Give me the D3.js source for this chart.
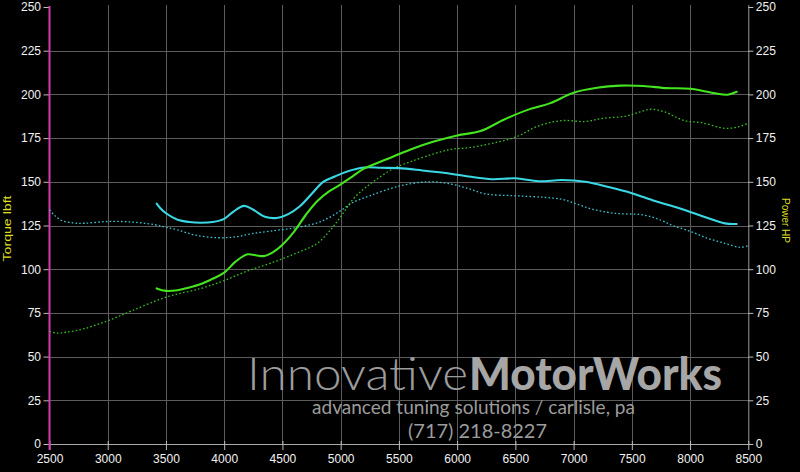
<!DOCTYPE html>
<html>
<head>
<meta charset="utf-8">
<script src="https://cdn.jsdelivr.net/npm/d3@7"></script>
<style>
  html, body { margin: 0; padding: 0; background: #000; }
  svg { display: block; }
</style>
</head>
<body>
<svg id="chart" width="800" height="472"></svg>
<script>
// ---------- DATA ----------
const xTicks = [2500, 3000, 3500, 4000, 4500, 5000, 5500, 6000, 6500, 7000, 7500, 8000, 8500];
const yTicks = [0, 25, 50, 75, 100, 125, 150, 175, 200, 225, 250];

const torqueRpm = [3420, 3450, 3500, 3600, 3700, 3800, 3900, 4000, 4080, 4170, 4250, 4350, 4450, 4550, 4650, 4750, 4850, 4950, 5050, 5200, 5350, 5500, 5700, 5900, 6100, 6300, 6500, 6700, 6900, 7100, 7300, 7500, 7700, 7900, 8100, 8300, 8400];
const torqueVals = [137.5, 135, 132, 128.3, 127, 126.6, 127, 128.8, 133, 136.2, 134, 130, 129.3, 131.5, 136, 143, 150, 153, 155.8, 158.2, 158, 157.8, 156.5, 155, 153, 151.5, 152, 150.3, 151, 150, 147, 143.5, 139, 135, 130.5, 126.2, 125.9];

const powerRpm = [3420, 3500, 3600, 3700, 3800, 3900, 4000, 4100, 4200, 4270, 4340, 4420, 4500, 4600, 4700, 4800, 4900, 5000, 5100, 5200, 5400, 5600, 5800, 6000, 6200, 6400, 6600, 6800, 7000, 7200, 7400, 7600, 7800, 8000, 8200, 8320, 8400];
const powerVals = [89, 87.6, 88, 89.5, 91.5, 94.5, 98, 104.5, 108.5, 108, 107.5, 109.8, 114, 121.5, 131, 139, 144.5, 148.5, 153, 157.5, 163, 168.5, 173, 176.5, 179, 185.5, 191, 195, 201, 203.8, 205, 204.8, 203.6, 203.2, 200.8, 199.8, 201.5];

const baseTorqueRpm = [2500, 2540, 2600, 2700, 2800, 3000, 3200, 3400, 3500, 3600, 3750, 3950, 4100, 4250, 4400, 4600, 4800, 4900, 5000, 5100, 5250, 5500, 5750, 5950, 6100, 6250, 6500, 6750, 6900, 7000, 7150, 7350, 7600, 7750, 7850, 8000, 8150, 8300, 8430, 8500];
const baseTorqueVals = [134, 131, 128, 126.5, 126.3, 127.3, 127, 125.5, 124, 122.5, 119.5, 118, 118.5, 120.5, 121.8, 123.6, 126.5, 129.5, 133.5, 138, 142, 147.5, 150, 148.7, 146, 143, 142, 141.1, 140, 138, 134.5, 132, 131, 128, 125, 121.7, 117.7, 114.8, 112.5, 113.5];

const basePowerRpm = [2500, 2560, 2650, 2800, 3000, 3200, 3500, 3800, 4000, 4200, 4400, 4650, 4800, 4900, 5000, 5100, 5200, 5300, 5450, 5600, 5800, 5950, 6100, 6300, 6500, 6700, 6900, 7100, 7250, 7450, 7570, 7660, 7780, 7950, 8100, 8300, 8420, 8500];
const basePowerVals = [64.5, 63.5, 64, 66, 70.5, 76, 84, 89, 93.5, 99, 103.5, 110, 114.8, 121.5, 130, 139.5, 146, 151, 157.5, 161.5, 166, 168.6, 169.5, 172, 175.5, 182, 185, 184.5, 186.3, 187.6, 190, 191.5, 190, 185, 183.8, 180.6, 181.5, 183.5];

const leftTitle = "Torque lbft";
const rightTitle = "Power HP";
const brandLight = "Innovative";
const brandBold = "MotorWorks";
const tagline = "advanced tuning solutions / carlisle, pa";
const phone = "(717) 218-8227";

// ---------- CHART ----------
const svg = d3.select("#chart");
svg.append("rect").attr("width", 800).attr("height", 472).attr("fill", "#000");

const x = d3.scaleLinear().domain([2500, 8500]).range([49.5, 748.3]);
const y = d3.scaleLinear().domain([0, 250]).range([444, 7]);

const font = "'Liberation Sans', Arial, Helvetica, sans-serif";

// grid
const grid = svg.append("g").attr("stroke", "#5c5c5c").attr("stroke-width", 1);
grid.selectAll("line.v").data(xTicks.filter(d => d > 2500 && d < 8500)).join("line")
  .attr("x1", d => Math.round(x(d)) + 0.5).attr("x2", d => Math.round(x(d)) + 0.5)
  .attr("y1", 5).attr("y2", 444);
grid.selectAll("line.h").data(yTicks.filter(d => d > 0 && d < 250)).join("line")
  .attr("x1", 49.5).attr("x2", 748.3)
  .attr("y1", d => Math.round(y(d)) + 0.5).attr("y2", d => Math.round(y(d)) + 0.5);

// watermark (vertically scaled so that its text boxes do not overlap)
const wm = svg.append("g").attr("fill", "#9c9c9c");
wm.append("text").attr("transform", "translate(247,390) scale(1,1.3)")
  .attr("font-family", "Lato, 'Open Sans', sans-serif").attr("font-weight", 300)
  .attr("font-size", 35).attr("textLength", 221).attr("lengthAdjust", "spacingAndGlyphs")
  .text(brandLight);
wm.append("text").attr("transform", "translate(469,390) scale(1,1.3)")
  .attr("font-family", "Lato, 'Open Sans', sans-serif").attr("font-weight", 900)
  .attr("font-size", 35).attr("textLength", 253).attr("lengthAdjust", "spacingAndGlyphs")
  .attr("fill", "#a6a6a6")
  .text(brandBold);
wm.append("text").attr("transform", "translate(312,413.5) scale(1,1.35)")
  .attr("font-family", "Lato, 'Open Sans', sans-serif").attr("font-weight", 400)
  .attr("font-size", 14).attr("textLength", 323).attr("lengthAdjust", "spacingAndGlyphs")
  .text(tagline);
wm.append("text").attr("transform", "translate(408,437.5) scale(1,1.35)")
  .attr("font-family", "Lato, 'Open Sans', sans-serif").attr("font-weight", 400)
  .attr("font-size", 14).attr("textLength", 139).attr("lengthAdjust", "spacingAndGlyphs")
  .text(phone);

// axes
function styleAxis(g) {
  g.selectAll("text").attr("fill", "#f2f2f2").attr("font-family", font).attr("font-size", 12);
  g.selectAll(".tick line").attr("stroke", "#bdbdbd");
}
const leftAxis = svg.append("g").attr("transform", "translate(49.5,0)")
  .call(d3.axisLeft(y).tickValues(yTicks).tickSize(6).tickSizeOuter(0).tickPadding(2.5));
leftAxis.select(".domain").remove();
styleAxis(leftAxis);

const rightAxis = svg.append("g").attr("transform", "translate(748.3,0)")
  .call(d3.axisRight(y).tickValues(yTicks).tickSize(5).tickSizeOuter(0).tickPadding(2.5));
rightAxis.select(".domain").attr("stroke", "#9a9a9a").attr("d", `M0.5,${y(250) - 2}V${y(0)}`);
styleAxis(rightAxis);

const bottomAxis = svg.append("g").attr("transform", "translate(0,444)")
  .call(d3.axisBottom(x).tickValues(xTicks).tickFormat(d3.format("d")).tickSize(6).tickSizeOuter(0).tickPadding(4.5));
bottomAxis.select(".domain").attr("stroke", "#a8a8a8");
bottomAxis.selectAll(".tick line").attr("y1", -3);
styleAxis(bottomAxis);

// magenta left axis line
svg.append("line").attr("x1", 49.5).attr("x2", 49.5).attr("y1", y(250) - 1).attr("y2", 450)
  .attr("stroke", "#d43aae").attr("stroke-width", 2);

// axis titles
svg.append("text").attr("transform", `translate(11,228.5) rotate(-90)`)
  .attr("text-anchor", "middle").attr("fill", "#dede22")
  .attr("font-family", font).attr("font-size", 11)
  .attr("textLength", 66).attr("lengthAdjust", "spacingAndGlyphs").text(leftTitle);
svg.append("text").attr("transform", `translate(782,220.5) rotate(90)`)
  .attr("text-anchor", "middle").attr("fill", "#dede22")
  .attr("font-family", font).attr("font-size", 11)
  .attr("textLength", 45).attr("lengthAdjust", "spacingAndGlyphs").text(rightTitle);

// lines
const line = d3.line().x(d => x(d[0])).y(d => y(d[1])).curve(d3.curveCatmullRom.alpha(0.5));
function series(rpm, vals, color, width, dash) {
  const p = svg.append("path").datum(d3.zip(rpm, vals))
    .attr("fill", "none").attr("stroke", color).attr("stroke-width", width)
    .attr("stroke-linejoin", "round").attr("d", line);
  if (dash) p.attr("stroke-dasharray", dash);
  else p.attr("stroke-linecap", "round");
}
series(baseTorqueRpm, baseTorqueVals, "#3cc4cc", 1.3, "1.6,2.2");
series(basePowerRpm, basePowerVals, "#36c022", 1.3, "1.6,2.2");
series(torqueRpm, torqueVals, "#3ad8e4", 2.1, null);
series(powerRpm, powerVals, "#44e41e", 2.1, null);
</script>
</body>
</html>
